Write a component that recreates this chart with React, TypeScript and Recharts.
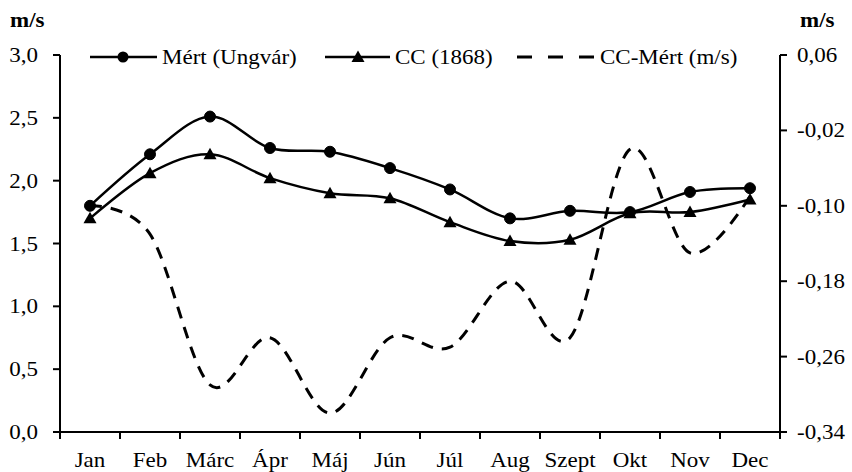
import React from "react";
import { LineChart, Line, XAxis, YAxis } from "recharts";

const months = ["Jan", "Feb", "Márc", "Ápr", "Máj", "Jún", "Júl", "Aug", "Szept", "Okt", "Nov", "Dec"];
const mert = [1.8, 2.21, 2.51, 2.26, 2.23, 2.1, 1.93, 1.7, 1.76, 1.75, 1.91, 1.94];
const cc1868 = [1.7, 2.06, 2.21, 2.02, 1.9, 1.86, 1.67, 1.52, 1.53, 1.74, 1.75, 1.85];
const diff = [-0.1, -0.13, -0.29, -0.24, -0.32, -0.24, -0.25, -0.18, -0.24, -0.04, -0.15, -0.09];
const leftTicks = [0, 0.5, 1, 1.5, 2, 2.5, 3];
const rightTicks = [-0.34, -0.26, -0.18, -0.1, -0.02, 0.06];

const data = months.map((m, i) => ({ month: m, mert: mert[i], cc: cc1868[i], diff: diff[i] }));

const FONT = '"Liberation Serif", "Times New Roman", serif';
const SX = 1.15; // the source text is a little wide
const TICK = 7;
const X_MARGIN = 14;
const BAND = 60;

// excel-like smoothing (catmull-rom through the points)
class SmoothCurve {
  _c: any;
  _x0 = NaN; _x1 = NaN; _x2 = NaN; _y0 = NaN; _y1 = NaN; _y2 = NaN;
  _p = 0;
  _line = NaN;
  constructor(ctx: any) {
    this._c = ctx;
  }
  areaStart() { this._line = 0; }
  areaEnd() { this._line = NaN; }
  lineStart() {
    this._x0 = this._x1 = this._x2 = this._y0 = this._y1 = this._y2 = NaN;
    this._p = 0;
  }
  seg(x: number, y: number) {
    const k = 1 / 6;
    this._c.bezierCurveTo(
      this._x1 + k * (this._x2 - this._x0),
      this._y1 + k * (this._y2 - this._y0),
      this._x2 + k * (this._x1 - x),
      this._y2 + k * (this._y1 - y),
      this._x2,
      this._y2
    );
  }
  lineEnd() {
    if (this._p === 2) this._c.lineTo(this._x2, this._y2);
    else if (this._p === 3) this.seg(this._x1, this._y1);
    if (this._line || (this._line !== 0 && this._p === 1)) this._c.closePath();
    this._line = 1 - this._line;
  }
  point(x: number, y: number) {
    x = +x; y = +y;
    if (this._p === 0) {
      this._p = 1;
      if (this._line) this._c.lineTo(x, y);
      else this._c.moveTo(x, y);
    } else if (this._p === 1) {
      this._p = 2;
      this._x1 = x; this._y1 = y;
    } else {
      if (this._p === 2) this._p = 3;
      this.seg(x, y);
    }
    this._x0 = this._x1; this._x1 = this._x2; this._x2 = x;
    this._y0 = this._y1; this._y1 = this._y2; this._y2 = y;
  }
}
const smooth: any = (ctx: any) => new SmoothCurve(ctx);

const comma = (v: number, d: number) => v.toFixed(d).replace(".", ",");

function Label({ x, y, anchor, children, bold, dy }: any) {
  return (
    <text
      x={0}
      y={0}
      dy={dy}
      transform={`translate(${x},${y}) scale(${SX},1)`}
      textAnchor={anchor}
      fontSize={20}
      fontWeight={bold ? 700 : 400}
      fontFamily={FONT}
      fill="#000"
    >
      {children}
    </text>
  );
}

const LeftTick = ({ x, y, payload }: any) => (
  <Label x={x} y={y} anchor="end" dy="0.35em">{comma(payload.value, 1)}</Label>
);
const RightTick = ({ x, y, payload }: any) => (
  <Label x={x} y={y} anchor="start" dy="0.35em">{comma(payload.value, 2)}</Label>
);
const MonthTick = ({ x, y, payload, index, visibleTicksCount }: any) => {
  const top = y - X_MARGIN - TICK;
  return (
    <g>
      <line x1={x - BAND / 2} x2={x - BAND / 2} y1={top} y2={top + TICK} stroke="#000" strokeWidth={2} />
      {index === visibleTicksCount - 1 && (
        <line x1={x + BAND / 2} x2={x + BAND / 2} y1={top} y2={top + TICK} stroke="#000" strokeWidth={2} />
      )}
      <Label x={x} y={y} anchor="middle" dy="0.71em">{payload.value}</Label>
    </g>
  );
};

const Triangle = ({ cx, cy, index }: any) => (
  <polygon key={`t${index}`} points={`${cx},${cy - 6.5} ${cx - 6.5},${cy + 5} ${cx + 6.5},${cy + 5}`} fill="#000" />
);

const axisLine = { stroke: "#000", strokeWidth: 2 };

export default function App() {
  return (
    <div style={{ position: "absolute", left: 0, top: 0, width: 852, height: 472, background: "#fff" }}>
      <LineChart width={852} height={472} data={data} margin={{ top: 55, right: 0, bottom: 0, left: 0 }}>
        <XAxis
          dataKey="month"
          height={40}
          padding={{ left: BAND / 2, right: BAND / 2 }}
          axisLine={axisLine}
          tickLine={false}
          tickSize={TICK}
          tickMargin={X_MARGIN}
          interval={0}
          tick={<MonthTick />}
        />
        <YAxis
          yAxisId="l"
          width={60}
          domain={[0, 3]}
          ticks={leftTicks}
          axisLine={axisLine}
          tickLine={{ stroke: "#000", strokeWidth: 2 }}
          tickSize={TICK}
          tickMargin={15}
          tick={<LeftTick />}
        />
        <YAxis
          yAxisId="r"
          orientation="right"
          width={72}
          domain={[-0.34, 0.06]}
          ticks={rightTicks}
          allowDataOverflow
          axisLine={axisLine}
          tickLine={{ stroke: "#000", strokeWidth: 2 }}
          tickSize={TICK}
          tickMargin={10}
          tick={<RightTick />}
        />
        <Line
          yAxisId="r"
          dataKey="diff"
          type={smooth}
          stroke="#000"
          strokeWidth={3}
          strokeDasharray="12 9"
          dot={false}
          isAnimationActive={false}
        />
        <Line
          yAxisId="l"
          dataKey="cc"
          type={smooth}
          stroke="#000"
          strokeWidth={2.5}
          dot={<Triangle />}
          isAnimationActive={false}
        />
        <Line
          yAxisId="l"
          dataKey="mert"
          type={smooth}
          stroke="#000"
          strokeWidth={2.5}
          dot={{ r: 5.5, fill: "#000", stroke: "#000", strokeWidth: 1 }}
          isAnimationActive={false}
        />
      </LineChart>
      <svg width={852} height={472} style={{ position: "absolute", left: 0, top: 0, pointerEvents: "none" }}>
        <Label x={10} y={27} anchor="start" bold>m/s</Label>
        <Label x={800} y={27} anchor="start" bold>m/s</Label>
        <g>
          <line x1={90} x2={157} y1={57} y2={57} stroke="#000" strokeWidth={2.5} />
          <circle cx={123} cy={57} r={5.5} fill="#000" />
          <Label x={162} y={57} anchor="start" dy="0.35em">Mért (Ungvár)</Label>
        </g>
        <g>
          <line x1={325} x2={390} y1={57} y2={57} stroke="#000" strokeWidth={2.5} />
          <Triangle cx={358} cy={57} index={0} />
          <Label x={395} y={57} anchor="start" dy="0.35em">CC (1868)</Label>
        </g>
        <g>
          <line x1={517} x2={598} y1={57} y2={57} stroke="#000" strokeWidth={3} strokeDasharray="15 16" />
          <Label x={600} y={57} anchor="start" dy="0.35em">CC-Mért (m/s)</Label>
        </g>
      </svg>
    </div>
  );
}
